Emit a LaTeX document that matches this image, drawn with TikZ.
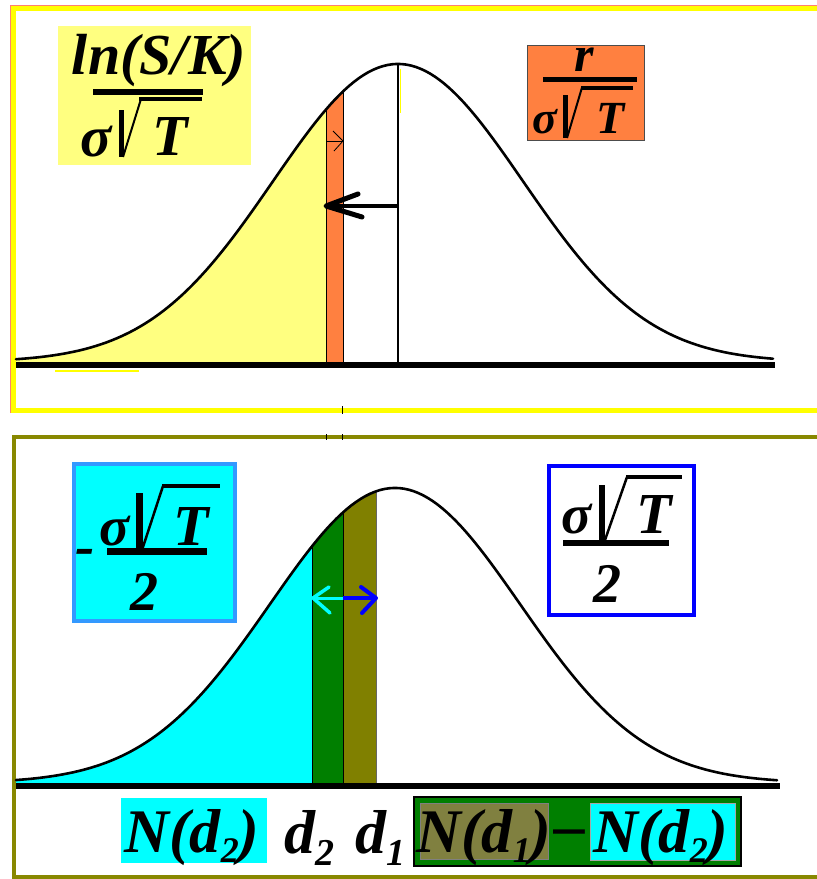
\documentclass[tikz,border=0pt]{standalone}
\usepackage{fontspec}
\setmainfont{Liberation Serif}
\newcommand\myfs[1]{\fontsize{#1}{#1}\selectfont}
\definecolor{fillyel}{HTML}{FFFF80}
\definecolor{orng}{HTML}{FF8040}
\definecolor{cyn}{HTML}{00FFFF}
\definecolor{dgreen}{HTML}{007F00}
\definecolor{olv}{HTML}{808000}
\definecolor{olvlt}{HTML}{808040}
\definecolor{cynbd}{HTML}{3399FF}
\definecolor{blu}{HTML}{0000FF}
\definecolor{frameyel}{HTML}{FFFF00}
\definecolor{framered}{HTML}{FF8070}
\definecolor{frameolv}{HTML}{888800}
\pgfmathdeclarefunction{gt}{1}{\pgfmathparse{362-298*exp(-0.5*((#1-398)/125)^2)}}
\pgfmathdeclarefunction{gb}{1}{\pgfmathparse{783-295*exp(-0.5*((#1-395)/125)^2)}}
\begin{document}
\begin{tikzpicture}[x=1pt,y=-1pt,
  txt/.style={inner sep=0pt, outer sep=0pt, anchor=base, font=\bfseries\itshape},
  curve/.style={line width=2.6pt, line join=round, line cap=round},
  bar/.style={line width=#1},
  edge/.style={line width=1pt, black}]
\useasboundingbox (0,0) rectangle (817,879);
\fill[white] (0,0) rectangle (817,879);

% ---------------- frames
\draw[frameyel, line width=5pt] (13.5,8.5) rectangle (850,410.5);
\draw[framered, line width=0.8pt] (10.6,412.5) -- (10.6,5.8) -- (850,5.8);
\draw[frameolv, line width=4pt] (14,437) rectangle (850,877);

% ---------------- top panel
\fill[fillyel] (16,362) -- plot[domain=16:326,samples=80] (\x,{gt(\x)}) -- (326,362) -- cycle;
\fill[orng] (326,362) -- plot[domain=326:343,samples=10] (\x,{gt(\x)}) -- (343,362) -- cycle;
\draw[edge] (326,{gt(326)}) -- (326,362);
\draw[edge] (343,{gt(343)}) -- (343,362);
\draw[frameyel, line width=1.5pt] (400.5,69) -- (400.5,113);
\draw[line width=2pt] (398,{gt(398)}) -- (398,362);
\draw[curve] plot[domain=16:773,samples=160] (\x,{gt(\x)});
\draw[line width=6pt] (16,365) -- (775,365);
\draw[frameyel, line width=1.5pt] (55,371) -- (139,371);
\draw[line width=1pt] (342,406) -- (342,414);
\draw[line width=1pt] (326,434) -- (326,440);
\draw[line width=1pt] (342,434) -- (342,440);

% arrows top
\coordinate (mtop) at (398,206);
\coordinate (tipA) at (326,206);
\draw[line width=4pt] (mtop) -- (tipA);
\draw[line width=5pt, line cap=round, line join=round] (358,194) -- (tipA) -- (362,217);
\coordinate (sA) at (327,141);
\coordinate (sB) at (343,141);
\draw[line width=0.8pt] (sA) -- (sB);
\draw[line width=0.8pt] (333,131) -- (sB) -- (334,151);

% label ln(S/K)/sigma sqrt T
\fill[fillyel] (58,26) rectangle (251,165);
\node[txt] (lnsk) at (159,74) {\myfs{58}ln(S/K)};
\draw[bar=6pt] (93,92) -- (203,92);
\node[txt] (sigA) at (96,156) {\myfs{58}σ};
\draw[line width=5pt] (121,110) -- (121,157);
\draw[line width=2pt] (123,157) -- (141,99);
\draw[line width=4pt] (139,99) -- (202,99);
\node[txt] (TA) at (170,155) {\myfs{58}T};

% label r/sigma sqrt T
\draw[fill=orng, draw=black!70, line width=0.8pt] (527,45) rectangle (644,140);
\node[txt] (rr) at (584,71) {\myfs{50}r};
\draw[bar=5pt] (543,79.5) -- (637,79.5);
\node[txt] (sigB) at (545,133) {\myfs{46}σ};
\draw[line width=5pt] (565,95) -- (565,138);
\draw[line width=2pt] (567,138) -- (582,87.5);
\draw[line width=4pt] (581,87.5) -- (633,87.5);
\node[txt] (TB) at (611,133) {\myfs{46}T};

% ---------------- bottom panel
\fill[cyn] (16,783) -- plot[domain=16:312,samples=80] (\x,{gb(\x)}) -- (312,783) -- cycle;
\fill[dgreen] (312,783) -- plot[domain=312:343,samples=10] (\x,{gb(\x)}) -- (343,783) -- cycle;
\fill[olv] (343,783) -- plot[domain=343:376,samples=10] (\x,{gb(\x)}) -- (376,783) -- cycle;
\draw[edge] (312,{gb(312)}) -- (312,783);
\draw[edge] (343,{gb(343)}) -- (343,783);
\draw[line width=0.6pt, black!60] (376,{gb(376)}) -- (376,783);
\draw[curve] plot[domain=16:777,samples=160] (\x,{gb(\x)});
\draw[line width=6pt] (16,786) -- (780,786);

% arrows bottom
\coordinate (mid) at (343,598);
\coordinate (tipL) at (313,598);
\coordinate (tipR) at (376,598);
\draw[cyn, line width=3pt] (mid) -- (tipL);
\draw[cyn, line width=3.5pt, line cap=round, line join=round] (329,587) -- (tipL) -- (330,613);
\draw[blu, line width=3.5pt] (mid) -- (tipR);
\draw[blu, line width=4pt, line cap=round, line join=round] (361,587) -- (tipR) -- (362,613);

% label -sigma sqrt T / 2
\draw[fill=cyn, draw=cynbd, line width=4pt] (74,464) rectangle (235,621);
\node[txt] (minusC) at (85,565) {\myfs{58}-};
\node[txt] (sigC) at (115,545) {\myfs{56}σ};
\draw[line width=7pt] (139,493) -- (139,550);
\draw[line width=2.5pt] (142,550) -- (163,486);
\draw[line width=4pt] (162,486) -- (220,486);
\node[txt] (TC) at (191,545) {\myfs{58}T};
\draw[bar=7pt] (107,551.5) -- (207,551.5);
\node[txt] (twoC) at (144,610) {\myfs{56}2};

% label sigma sqrt T / 2
\draw[fill=white, draw=blu, line width=4pt] (549,466) rectangle (693.5,615);
\node[txt] (sigD) at (577,533) {\myfs{56}σ};
\draw[line width=6pt] (602,485) -- (602,540);
\draw[line width=2.5pt] (605,540) -- (627,477);
\draw[line width=4pt] (626,477) -- (682,477);
\node[txt] (TD) at (654,533) {\myfs{58}T};
\draw[bar=6pt] (563,543) -- (669,543);
\node[txt] (twoD) at (607,602) {\myfs{56}2};

% ---------------- bottom labels
\fill[cyn] (121,798) rectangle (267,863);
\node[txt] (Nd2a) at (192,852) {\myfs{62}N(d\lower10pt\hbox{\myfs{36}2})};
\node[txt] (d2) at (309,853) {\myfs{62}d\lower12pt\hbox{\myfs{38}2}};
\node[txt] (d1) at (380,853) {\myfs{62}d\lower12pt\hbox{\myfs{38}1}};
\draw[fill=dgreen, draw=black, line width=1.2pt] (414,797) rectangle (741,866);
\draw[fill=olvlt, draw=gray, line width=0.8pt] (420,803) rectangle (548,859);
\draw[fill=cyn, draw=gray!70, line width=0.8pt] (590,803) rectangle (735,860);
\node[txt] (Nd1) at (484,852) {\myfs{62}N(d\lower10pt\hbox{\myfs{36}1})};
\node[txt] (dash) at (570,846) {\myfs{62}–};
\node[txt] (Nd2b) at (661,852) {\myfs{62}N(d\lower10pt\hbox{\myfs{36}2})};
\end{tikzpicture}
\end{document}
